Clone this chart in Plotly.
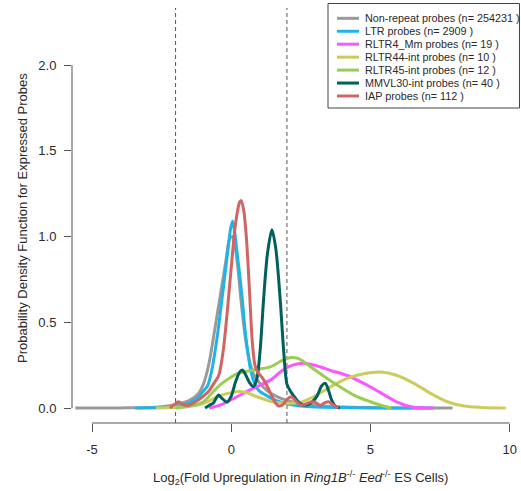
import plotly.graph_objects as go

# ---- data ----
series_names = [
    "Non-repeat probes (n= 254231 )",
    "LTR probes (n= 2909 )",
    "RLTR4_Mm probes (n= 19 )",
    "RLTR44-int probes (n= 10 )",
    "RLTR45-int probes (n= 12 )",
    "MMVL30-int probes (n= 40 )",
    "IAP probes (n= 112 )",
]
series_colors = ["#9a9a9a", "#1fb4e8", "#ff55ff", "#cccc5c", "#9acd55", "#00605e", "#d16464"]

nonrepeat_x = [-5.6, -4.0, -3.0, -2.5, -2.0, -1.5, -1.2, -1.0, -0.8, -0.6, -0.4, -0.2, -0.05, 0.05, 0.15,
               0.25, 0.35, 0.5, 0.65, 0.8, 1.0, 1.3, 1.6, 2.0, 2.5, 3.0, 4.0, 5.0, 6.0, 7.95]
nonrepeat_y = [0, 0.001, 0.003, 0.008, 0.02, 0.045, 0.08, 0.14, 0.26, 0.45, 0.65, 0.85, 0.99, 1.0, 0.93,
               0.8, 0.63, 0.42, 0.28, 0.2, 0.15, 0.1, 0.07, 0.045, 0.025, 0.015, 0.006, 0.003, 0.001, 0]

ltr_x = [-3.45, -3.0, -2.5, -2.0, -1.5, -1.2, -1.0, -0.85, -0.7, -0.5, -0.3, -0.15, -0.02, 0.05, 0.12,
         0.2, 0.3, 0.4, 0.5, 0.6, 0.7, 0.85, 1.0, 1.3, 1.6, 2.0, 2.5, 3.0, 4.0, 5.0, 7.2]
ltr_y = [0, 0.001, 0.004, 0.01, 0.03, 0.06, 0.1, 0.13, 0.22, 0.42, 0.68, 0.88, 1.05, 1.09, 1.03,
         0.92, 0.78, 0.63, 0.45, 0.32, 0.22, 0.14, 0.1, 0.07, 0.045, 0.025, 0.012, 0.006, 0.003, 0.001, 0]

rltr4_x = [-0.8, -0.4, 0.2, 0.8, 1.4, 1.8, 2.2, 2.6, 3.0, 3.56, 4.16, 4.76, 5.36, 5.96, 6.5, 7.27]
rltr4_y = [0, 0.017, 0.066, 0.116, 0.163, 0.215, 0.25, 0.262, 0.25, 0.22, 0.19, 0.144, 0.09, 0.035, 0.006, 0]

rltr44_x = [-2.7, -2.2, -1.7, -1.0, -0.5, 0.0, 0.3, 0.6, 0.92, 1.4, 1.8, 2.2, 2.5, 2.96, 3.56, 4.16,
            4.76, 5.36, 5.96, 6.56, 7.16, 7.76, 8.36, 8.96, 9.86]
rltr44_y = [0, 0.003, 0.008, 0.027, 0.066, 0.09, 0.097, 0.088, 0.066, 0.04, 0.03, 0.028, 0.035, 0.066,
            0.124, 0.173, 0.2, 0.21, 0.19, 0.144, 0.086, 0.037, 0.012, 0.004, 0]

rltr45_x = [-2.0, -1.5, -1.0, -0.65, -0.4, -0.15, 0.2, 0.8, 1.4, 1.8, 2.15, 2.4, 2.6, 3.2, 3.8, 4.4,
            5.0, 5.4, 5.75]
rltr45_y = [0, 0.01, 0.037, 0.095, 0.135, 0.165, 0.2, 0.222, 0.24, 0.275, 0.295, 0.29, 0.27, 0.2,
            0.134, 0.076, 0.037, 0.015, 0]

mmvl30_x = [-0.94, -0.8, -0.64, -0.55, -0.46, -0.35, -0.15, 0.0, 0.15, 0.3, 0.4, 0.5, 0.65, 0.8, 0.92,
            1.04, 1.16, 1.3, 1.46, 1.6, 1.76, 1.88, 2.0, 2.12, 2.25, 2.42, 2.6, 2.75, 2.9, 3.08, 3.25,
            3.38, 3.5, 3.6, 3.74, 3.9]
mmvl30_y = [0, 0.015, 0.03, 0.055, 0.076, 0.06, 0.035, 0.07, 0.15, 0.21, 0.222, 0.2, 0.15, 0.125, 0.17,
            0.34, 0.63, 0.9, 1.04, 0.93, 0.63, 0.34, 0.14, 0.1, 0.07, 0.035, 0.017, 0.02, 0.035, 0.07,
            0.13, 0.144, 0.1, 0.05, 0.012, 0]

iap_x = [-2.2, -2.05, -1.9, -1.75, -1.6, -1.4, -1.2, -1.0, -0.8, -0.6, -0.45, -0.3, -0.15, 0.0, 0.15,
         0.3, 0.36, 0.45, 0.55, 0.65, 0.75, 0.85, 0.95, 1.1, 1.25, 1.4, 1.55, 1.7, 1.85, 2.0, 2.15,
         2.3, 2.5, 2.7, 2.9, 3.05, 3.2, 3.35, 3.5, 3.65, 3.85]
iap_y = [0, 0.02, 0.037, 0.022, 0.015, 0.025, 0.045, 0.07, 0.1, 0.15, 0.19, 0.32, 0.55, 0.82, 1.07,
         1.2, 1.21, 1.15, 0.98, 0.7, 0.4, 0.25, 0.21, 0.18, 0.14, 0.09, 0.04, 0.012, 0.02, 0.05, 0.066,
         0.045, 0.017, 0.025, 0.037, 0.03, 0.017, 0.03, 0.037, 0.02, 0]

series_x = [nonrepeat_x, ltr_x, rltr4_x, rltr44_x, rltr45_x, mmvl30_x, iap_x]
series_y = [nonrepeat_y, ltr_y, rltr4_y, rltr44_y, rltr45_y, mmvl30_y, iap_y]

threshold_lines = [-2, 2]
x_ticks = [-5, 0, 5, 10]
x_ticktext = ["-5", "0", "5", "10"]
y_ticks = [0, 0.5, 1.0, 1.5, 2.0]
y_ticktext = ["0.0", "0.5", "1.0", "1.5", "2.0"]

FONT = "Liberation Sans, Arial, Helvetica, sans-serif"
AX = "#555555"
TXT = "#2a2a2a"

fig = go.Figure()
for name, col, xs, ys in zip(series_names, series_colors, series_x, series_y):
    fig.add_trace(go.Scatter(x=xs, y=ys, mode="lines", name=name,
                             line=dict(color=col, width=3, shape="spline", smoothing=0.8),
                             showlegend=False, hoverinfo="skip"))

shapes = []
for v in threshold_lines:
    shapes.append(dict(type="line", xref="x", yref="paper", x0=v, x1=v, y0=0, y1=1,
                       line=dict(color="#555555", width=1, dash="4px,3px"), layer="below"))
# R-style detached axis lines
shapes.append(dict(type="line", xref="x", yref="paper", x0=x_ticks[0], x1=x_ticks[-1], y0=0, y1=0,
                   line=dict(color=AX, width=1)))
shapes.append(dict(type="line", xref="paper", yref="y", x0=0, x1=0, y0=y_ticks[0], y1=y_ticks[-1],
                   line=dict(color=AX, width=1)))

# manual legend box (pixel -> paper conversion)
L, T, PW, PH = 72, 8, 446, 415
def px(xp):
    return (xp - L) / PW
def py(yp):
    return 1 - (yp - T) / PH

shapes.append(dict(type="rect", xref="paper", yref="paper", x0=px(328), x1=px(519.5), y0=py(3.5), y1=py(108),
                   line=dict(color="#444444", width=1), fillcolor="white"))
annotations = []
row0, step = 18.3, 12.95
for i, (name, col) in enumerate(zip(series_names, series_colors)):
    yy = row0 + i * step
    shapes.append(dict(type="line", xref="paper", yref="paper", x0=px(337), x1=px(359), y0=py(yy), y1=py(yy),
                       line=dict(color=col, width=3)))
    annotations.append(dict(xref="paper", yref="paper", x=px(363), y=py(yy), text=name, showarrow=False,
                            xanchor="left", yanchor="middle", font=dict(family=FONT, size=10.8, color=TXT)))

annotations.append(dict(xref="paper", yref="paper", x=px(300), y=py(478),
                        text="Log<sub>2</sub>(Fold Upregulation in <i>Ring1B</i><sup>-/-</sup> <i>Eed</i><sup>-/-</sup> ES Cells)",
                        showarrow=False, xanchor="center", yanchor="middle",
                        font=dict(family=FONT, size=13, color=TXT)))
annotations.append(dict(xref="paper", yref="paper", x=px(23), y=py(218),
                        text="Probability Density Function for Expressed Probes", textangle=-90,
                        showarrow=False, xanchor="center", yanchor="middle",
                        font=dict(family=FONT, size=13, color=TXT)))

fig.update_layout(
    width=521, height=491,
    margin=dict(l=L, r=521 - L - PW, t=T, b=491 - T - PH),
    paper_bgcolor="white", plot_bgcolor="white",
    font=dict(family=FONT, size=13, color=TXT),
    showlegend=False,
    shapes=shapes, annotations=annotations,
    xaxis=dict(range=[-5.72, 10.3], showgrid=False, zeroline=False, showline=False,
               tickmode="array", tickvals=x_ticks, ticktext=x_ticktext,
               ticks="outside", ticklen=8, tickcolor=AX, tickwidth=1,
               ticklabelstandoff=6, tickfont=dict(size=13, color=TXT, family=FONT)),
    yaxis=dict(range=[-0.087, 2.333], showgrid=False, zeroline=False, showline=False,
               tickmode="array", tickvals=y_ticks, ticktext=y_ticktext,
               ticks="outside", ticklen=7, tickcolor=AX, tickwidth=1,
               ticklabelstandoff=5, tickfont=dict(size=13, color=TXT, family=FONT)),
)

# remove the browser's default 8px body margin so the figure sits at the page origin
fig.write_html("out.html", config={"displayModeBar": False},
               post_script="document.body.style.margin='0';document.body.style.overflow='hidden';")
